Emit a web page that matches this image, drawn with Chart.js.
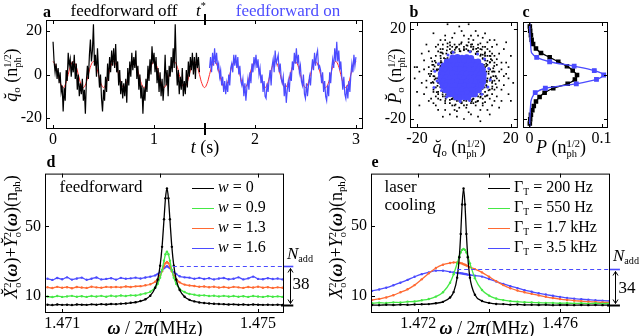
<!DOCTYPE html>
<html>
<head>
<meta charset="utf-8">
<script src="https://cdn.jsdelivr.net/npm/chart.js@4.4.0/dist/chart.umd.min.js"></script>
<style>
body { margin: 0; background: #fff; }
#wrap { position: relative; width: 641px; height: 336px; overflow: hidden; font-family: 'Liberation Serif', 'Times New Roman', serif; }
canvas { position: absolute; }
.t { position: absolute; transform: translate(-50%, -50%); white-space: nowrap; line-height: 1; font-size: 17px; color: #000; }
.r { transform: translate(-50%, -50%) rotate(-90deg); }
.ax { font-size: 18px; }
.b { font-weight: bold; font-size: 16px; }
.st { display: inline-flex; flex-direction: column; vertical-align: middle; font-size: 0.58em; line-height: 0.95; text-align: left; }
.sb { font-size: 0.6em; vertical-align: -0.3em; }
.bw { font-weight: bold; font-style: italic; }
.lg { position: absolute; font-size: 16px; line-height: 16px; white-space: nowrap; }
.ln { display: inline-block; width: 22px; height: 1.5px; vertical-align: middle; margin-right: 4px; }
</style>
</head>
<body>
<div id="wrap">
  <canvas id="ca" width="370" height="160" style="left:0;top:0"></canvas>
  <canvas id="cb" width="140" height="160" style="left:380px;top:0"></canvas>
  <canvas id="cc" width="121" height="160" style="left:520px;top:0"></canvas>
  <canvas id="cd" width="320" height="176" style="left:0;top:160px"></canvas>
  <canvas id="ce" width="321" height="176" style="left:320px;top:160px"></canvas>

  <div class="t b" style="left:47px;top:12px">a</div>
  <div class="t" style="left:124px;top:10px">feedforward off</div>
  <div class="t" style="left:201px;top:10px"><i>t</i><sup style="font-size:0.6em">*</sup></div>
  <div class="t" style="left:288px;top:10px;color:#4d4dff">feedforward on</div>
  <div class="t ax" style="left:205px;top:147px"><i>t</i> (s)</div>
  <div class="t r ax" style="left:12px;top:75px"><i>q&#774;</i><span class="sb">o</span> (n<span class="st"><span>1/2</span><span>ph</span></span>)</div>

  <div class="t b" style="left:414px;top:12px">b</div>
  <div class="t b" style="left:526px;top:12px">c</div>
  <div class="t ax" style="left:459px;top:148px"><i>q&#774;</i><span class="sb">o</span> (n<span class="st"><span>1/2</span><span>ph</span></span>)</div>
  <div class="t ax" style="left:561px;top:148px"><i>P</i> (n<span class="st"><span>1/2</span><span>ph</span></span>)</div>
  <div class="t r ax" style="left:396px;top:76px"><i>P&#774;</i><span class="sb">o</span> (n<span class="st"><span>1/2</span><span>ph</span></span>)</div>

  <div class="t b" style="left:51px;top:162px">d</div>
  <div class="t b" style="left:375px;top:162px">e</div>
  <div class="t" style="left:101px;top:186px">feedforward</div>
  <div class="t" style="left:410px;top:196px;line-height:18px;text-align:left">laser<br>cooling</div>
  <div class="t r ax" style="left:12px;top:237px"><i>X&#774;</i><span class="st"><span>2</span><span>o</span></span>(<span class="bw">ω</span>)+<i>Y&#774;</i><span class="st"><span>2</span><span>o</span></span>(<span class="bw">ω</span>)(n<span class="sb">ph</span>)</div>
  <div class="t r ax" style="left:337px;top:237px"><i>X</i><span class="st"><span>2</span><span>o</span></span>(<span class="bw">ω</span>)+<i>Y</i><span class="st"><span>2</span><span>o</span></span>(<span class="bw">ω</span>)(n<span class="sb">ph</span>)</div>
  <div class="t ax" style="left:155px;top:328px"><span class="bw">ω</span> / 2<span class="bw">π</span>(MHz)</div>
  <div class="t ax" style="left:487px;top:328px"><span class="bw">ω</span> / 2<span class="bw">π</span>(MHz)</div>
  <div class="t" style="left:300px;top:255px"><i>N</i><span class="sb">add</span></div>
  <div class="t" style="left:301px;top:283px">38</div>
  <div class="t" style="left:626px;top:257px"><i>N</i><span class="sb">add</span></div>
  <div class="t" style="left:627px;top:287px">34</div>

  <div class="lg" style="left:192px;top:179px"><span class="ln" style="background:#000"></span><i>w</i> = 0</div>
  <div class="lg" style="left:192px;top:199px"><span class="ln" style="background:#45e845"></span><i>w</i> = 0.9</div>
  <div class="lg" style="left:192px;top:219px"><span class="ln" style="background:#ff6a33"></span><i>w</i> = 1.3</div>
  <div class="lg" style="left:192px;top:239px"><span class="ln" style="background:#4b4bff"></span><i>w</i> = 1.6</div>

  <div class="lg" style="left:488px;top:179px"><span class="ln" style="background:#000"></span>Γ<span class="sb">T</span> = 200 Hz</div>
  <div class="lg" style="left:488px;top:199px"><span class="ln" style="background:#45e845"></span>Γ<span class="sb">T</span> = 550 Hz</div>
  <div class="lg" style="left:488px;top:219px"><span class="ln" style="background:#ff6a33"></span>Γ<span class="sb">T</span> = 1.7 kHz</div>
  <div class="lg" style="left:488px;top:239px"><span class="ln" style="background:#4b4bff"></span>Γ<span class="sb">T</span> = 3.5 kHz</div>
</div>

<script>
// ---------- panel a: time traces (sampled every 10 ms) ----------
var offStart = 0, onStart = 1.55, sampleStep = 0.01;
var qOff = [15,6,1,5,-2,3,-4,1,-8,-5,
  -17,-6,-12,2,-3,10,4,7,-1,6,
  1,9,-2,5,-7,0,-10,-4,-9,-2,
  -12,-7,-18,-3,4,-2,9,16,6,11,
  23,4,9,-1,12,2,-6,0,-11,-17,
  -7,-12,-1,-8,5,-3,8,1,11,4,
  12,3,14,1,6,-5,2,-9,-3,-11,
  -4,-10,-2,-13,3,-5,6,-1,10,2,
  8,3,11,-2,4,-7,0,-11,-5,-18,
  -6,-12,-2,-8,4,-3,7,0,13,5,
  10,1,8,-4,3,-8,1,-10,-2,-12,
  -4,9,-5,2,-10,4,-1,8,1,12,
  3,23,5,-5,2,-9,-1,-7,3,-10,
  -3,-9,2,-6,6,-1,8,2,10,0,
  8,-2,10,3,8,1];
var qOn = [3,8,1,10,4,12,5,10,3,5,
  -1,2,-5,-1,-8,-3,-9,-4,-8,0,
  -5,3,5,1,9,4,9,3,8,0,
  4,-3,-5,-2,-10,-4,-12,-6,-2,-7,
  1,-4,5,1,8,4,9,3,7,0,
  3,-4,0,-8,-3,-10,-11,-4,-8,-2,
  2,-5,4,7,1,11,5,7,9,1,
  5,-2,-4,-1,-10,-4,-13,-7,-3,-8,
  1,-3,6,2,10,5,12,5,9,1,
  4,-3,-5,0,-9,-11,-4,-10,-5,-1,
  -5,2,7,2,10,4,9,11,3,4,
  2,-4,1,-8,-3,-10,-12,-5,-10,1,
  -4,3,7,3,12,6,15,6,11,2,
  6,-1,-7,-1,-9,-11,-5,-11,-3,-8,
  0,5,1,9,4,8];
// reference oscillation, every 25 ms
var refStep = 0.025;
var qRef = [6,4.2,0,-4.2,-6,-4.2,0,4.2, 6,4.2,0,-4.2,-6,-4.2,0,4.2, 6,4.2,0,-4.2,-6,-4.2,0,4.2,
  6,4.2,0,-4.2,-6,-4.2,0,4.2, 6,4.2,0,-4.2,-6,-4.2,0,4.2, 6,4.2,0,-4.2,-6,-4.2,0,4.2,
  6,4.2,0,-4.2,-6,-4.2,0,4.2, 6,4.2,0,-4.2,-6,-4.2,0,4.2, 6,4.2,0,-4.2,-6,-4.2,0,4.2,
  6,4.2,0,-4.2,-6,-4.2,0,4.2, 6,4.2,0,-4.2,-6,-4.2,0,4.2, 6,4.2,0,-4.2,-6,-4.2,0,4.2,
  6,4.2,0,-4.2,-6,-4.2,0,4.2, 6,4.2,0,-4.2,-6,-4.2,0,4.2, 6,4.2,0,-4.2,-6,-4.2,0,4.2, 6];
var tStar = 1.5;
var ticksTA = [0, 1, 2, 3], labelsTA = ['0', '1', '2', '3'];
var ticksQA = [-20, 0, 20], labelsQA = ['-20', '0', '20'];

// ---------- panel b: phase-space scatter [q, p] ----------
var offPoints = [[9,3],[10,-2],[8,7],[11,5],[12,-4],[7,-9],[-9,2],[-10,-3],[-8,6],[-11,4],
  [-12,-6],[-7,-10],[3,10],[-2,11],[5,9],[-5,10],[0,12],[2,-11],[-3,-12],[6,-10],
  [-6,-9],[1,-10],[10,8],[-10,8],[9,-8],[-9,-8],[13,1],[-13,-1],[12,6],[-12,5],
  [4,12],[-4,13],[7,11],[-7,12],[11,-7],[-11,-9],[3,-13],[-1,-13],[8,-11],[-8,-12],
  [13,-3],[-13,2],[14,4],[-14,-4],[10,11],[-10,11],[11,10],[-11,-11],[6,13],[-6,14],
  [2,14],[-2,-15],[5,-14],[-5,-14],[14,-6],[-14,7],[9,12],[-9,13],[12,-9],[-12,-10],
  [8.5,4],[9.5,-5],[-8.5,-4],[-9.5,5],[4,-9.5],[-4,9.5],[10.5,1],[-10.5,0],[0,10.5],[0.5,-11],
  [7,8],[-7,-8],[7,-7],[-7,7],[11.5,-1.5],[-11.5,1.5],[1.5,12.5],[-1.5,-11.5],[12.5,2.5],[-12.5,-2.5],
  [9,9.5],[-9,-10],[10,-9.5],[-10,9.5],[6,11.5],[-6,-11.5],[13.5,-1],[-13.5,4],[3.5,-11.5],[-3.5,11.5],
  [16,2],[-16,-3],[15,9],[-15,10],[3,17],[-4,18],[8,16],[-10,15],[17,-5],[-17,6],
  [12,-14],[-13,-13],[2,-17],[-6,-18],[18,0],[-19,1],[6,-19],[-2,21],[10,-16],[-11,-16],
  [14,13],[-15,-12],[19,-9],[-20,-8],[0,-20],[16,-12],[-16,13],[5,19],[-8,17],[20,8],
  [-21,3],[-21,-2],[19,-2],[-7,22],[2,22],[15,-15],[-3,-19],[11,15],[-17,-9],[17,11],
  [13,8],[-13,-7],[8,-14],[-8,15],[15,-3],[-15,0],[4,15],[-4,-16],[12,12],[-12,12],
  [10,4],[11,2],[9,6],[12,1],[11,-3],[10,-6],[8,-9],[9,-10],[6,-12],[4,-11],
  [1,-12],[-2,-12],[-5,-11],[-8,-10],[-10,-6],[-11,-4],[-12,-2],[-11,2],[-10,5],[-9,9],
  [-6,11],[-3,12],[1,11],[4,11],[6,10],[9,8],[12.5,-1],[13,5],[11,8],[8,12],
  [3,13],[-1,14],[-5,12],[-9,11],[-12,8],[-13,4],[-14,0],[-13,-4],[-11,-8],[-8,-13],
  [-4,-14],[0,-14],[4,-13],[8,-13],[11,-11],[13,-7],[14,-2],[9.5,1],[9.8,-3],[8.8,-6],
  [7,-10.5],[2.5,-10.2],[-1,-10.8],[-4.5,-10.5],[-8,-8],[-9.8,-5],[-10.2,-1],[-10,3],[-8.5,7],[-5.5,9.5],
  [-1.5,10],[2,10.2],[5.5,9.8],[8,8.5],[9.5,4.5],[11.5,6.5],[13.5,-4.5],[12,-6.5],[9,-12.5],[5,-12.5],
  [-1,-12.5],[-6,-13],[-10,-11.5],[-13,-8],[-14.5,-1],[-13.5,5.5],[-11,10],[-7,13.5],[-2,13],[3,12],
  [7,13.5],[12,9],[14,6.5],[15,1],[-15,3],[2,15.5],[-3,-16.5],[16,-7],[-16,-6],[10,14],
  [-11,13],[13,-12],[-12,-14],[7,-16],[-8,-16],[16,5],[-17,2],[0,17],[1,-15],[17,-1],
  [-18,-4],[-5,16],[6,17],[18,5],[-18,9],[14,-10],[-14,-11],[9,18],[-9,-19],[19,3],
  [-20,3],[11,-18],[3,-18],[-1,19],[13,15],[20,-12],[-19,-14],[18,14],[-13,18],[7,-21],[21,-4],
  [10.5,0],[11.1,2.0],[9.6,3.5],[10.0,5.8],[8.0,6.7],[7.2,8.6],[5.1,8.7],[3.9,10.8],[1.8,10.4],[0,11],
  [-1.8,10.1],[-3.9,10.7],[-5.3,9.1],[-7.5,9.0],[-7.8,6.6],[-9.8,5.7],[-10.0,3.6],[-11.6,2.0],[-10.4,0],[-11.3,-2.0],
  [-9.7,-3.5],[-10.0,-5.8],[-8.3,-6.9],[-7.6,-9.1],[-5.4,-9.3],[-4.1,-11.3],[-1.9,-10.7],[0,-11.8],[1.8,-10.4],[4.0,-11.0],
  [5.3,-9.1],[7.3,-8.7],[7.9,-6.6],[9.7,-5.6],[9.8,-3.6],[11.3,-2.0],
  [12.5,1.1],[12.9,3.5],[11.1,5.2],[11.3,7.9],[8.9,8.9],[7.6,10.8],[5.2,11.1],[3.5,13.1],[1.1,12.7],[-1.2,13.4],
  [-3.2,12.0],[-5.9,12.6],[-7.3,10.4],[-9.4,9.4],[-9.9,6.9],[-12.4,5.8],[-12.5,3.3],[-13.9,1.2],[-12.6,-1.1],[-13.3,-3.6],
  [-11.3,-5.3],[-11.6,-8.1],[-9.1,-9.1],[-7.8,-11.1],[-5.2,-11.2],[-3.6,-13.6],[-1.1,-13.0],[1.2,-13.8],[3.3,-12.2],[5.7,-12.2],
  [7.1,-10.1],[9.7,-9.7],[10.5,-7.3],[12.1,-5.6],[12.1,-3.2],[13.5,-1.2]];
var onPoints = [[-4.8,7.2],[-2.8,7.4],[-0.8,7.1],[1.2,7.3],[3.0,7.0],
  [-7.2,5.4],[-5.6,5.6],[-3.6,5.3],[-1.6,5.5],[0.4,5.4],[2.4,5.6],[4.4,5.3],[6.0,5.4],
  [-8.6,3.6],[-6.8,3.7],[-4.8,3.5],[-2.8,3.6],[-0.8,3.8],[1.2,3.5],[3.2,3.7],[5.2,3.6],[7.2,3.5],
  [-9.4,1.8],[-7.6,1.9],[-5.6,1.7],[-3.6,1.8],[-1.6,2.0],[0.4,1.7],[2.4,1.9],[4.4,1.8],[6.4,1.7],[8.0,1.9],
  [-9.8,0.1],[-8.6,-0.1],[-6.8,0.0],[-4.8,0.2],[-2.8,-0.1],[-0.8,0.1],[1.2,0.0],[3.2,-0.2],[5.2,0.1],[7.2,0.0],[8.4,-0.1],
  [-9.9,-1.8],[-7.6,-1.7],[-5.6,-1.9],[-3.6,-1.8],[-1.6,-1.6],[0.4,-1.9],[2.4,-1.8],[4.4,-1.7],[6.4,-1.9],[8.3,-1.8],
  [-9.6,-3.6],[-8.6,-3.5],[-6.8,-3.7],[-4.8,-3.6],[-2.8,-3.4],[-0.8,-3.7],[1.2,-3.6],[3.2,-3.5],[5.2,-3.7],[7.2,-3.6],[8.1,-3.5],
  [-8.9,-5.4],[-7.6,-5.3],[-5.6,-5.5],[-3.6,-5.4],[-1.6,-5.6],[0.4,-5.3],[2.4,-5.4],[4.4,-5.5],[6.4,-5.3],[7.5,-5.4],
  [-7.9,-7.2],[-6.8,-7.1],[-4.8,-7.3],[-2.8,-7.2],[-0.8,-7.0],[1.2,-7.2],[3.2,-7.3],[5.2,-7.1],[6.3,-7.2],
  [-6.2,-9.0],[-4.6,-8.9],[-2.6,-9.1],[-0.6,-9.0],[1.4,-8.8],[3.4,-9.0],[4.6,-9.0],
  [-3.2,-10.4],[-1.6,-10.5],[0.4,-10.3],[1.8,-10.4]];
var onStray = [[-10.8,4.5],[10.2,-5.8],[-7.4,-10.2],[5.8,8.8],[10.6,2.4],[-11.4,-3.2],[2.4,-11.8],[-4.6,9.6],
  [8.8,6.6],[-12.4,1.2],[-9.6,-7.4],[7.6,-9.0],[2.6,9.8],[-6.8,8.4],[11.2,-2.6],[-1.6,-12.2],[-12.8,-6]];
var ticksB = [-20, 20], labelsB = ['-20', '20'];

// ---------- panel c: distributions P(q) ----------
var qHist = [26,22,20,18,16,14,12,10,8,6,4,2,0,-2,-4,-6,-8,-10,-12,-14,-16,-18,-20,-22,-26];
var pOff = [0.0003,0.0005,0.001,0.002,0.003,0.005,0.009,0.016,0.028,0.040,0.052,0.060,0.066,0.063,0.053,0.033,0.021,0.014,0.009,0.006,0.004,0.002,0.001,0.0005,0.0003];
var pOn = [0.0002,0.0003,0.0005,0.0008,0.001,0.0015,0.002,0.003,0.010,0.028,0.062,0.090,0.103,0.093,0.065,0.022,0.008,0.004,0.002,0.0015,0.001,0.0008,0.0005,0.0003,0.0002];
var ticksPC = [0, 0.1], labelsPC = ['0', '0.1'];

// ---------- panel d: feedforward spectra ----------
var freqD = [1.4707,1.4708,1.4709,1.471,1.4711,1.4712,1.4713,1.4714,1.4715,1.4716,1.4717,1.4718,1.4719,1.472,1.4721,1.4722,1.4723,1.4724,1.4725,1.4726,1.4727,1.4728,1.4729,
  1.47295,1.473,1.47304,1.47308,1.47311,1.47314,1.47317,1.4732,1.47324,1.47328,1.47333,
  1.4734,1.4735,1.4736,1.4737,1.4738,1.4739,1.474,1.4741,1.4742,1.4743,1.4744,1.4745,1.4746,1.4747,1.4748,1.4749,1.475,1.4751,1.4752,1.4753,1.4754,1.4755];
var w0 = [4.8,4.6,4.9,4.7,4.8,4.6,4.9,4.8,4.7,5.0,4.8,5.1,4.9,5.2,5.1,5.4,5.5,5.9,6.2,6.9,7.9,10.0,14.6,
  19.2,27.3,38.2,54.1,66.3,71.9,66.3,54.1,38.2,27.3,19.2,
  13.3,9.4,7.6,6.7,6.1,5.8,5.5,5.3,5.2,5.1,4.9,5.0,4.8,4.9,4.7,4.9,4.8,4.7,4.8,4.7,4.8,4.7];
var w09 = [9.5,9.2,9.8,9.3,9.6,9.9,9.4,9.7,9.3,9.8,9.5,9.9,9.4,10.0,9.6,10.1,9.8,10.2,10.1,10.7,11.3,12.3,14.7,
  16.8,20.4,24.8,30.2,33.9,35.4,33.9,30.2,24.8,20.4,16.8,
  13.9,12.1,11.0,10.6,10.1,10.2,9.8,10.0,9.6,9.9,9.5,9.8,9.4,9.7,9.3,9.8,9.5,9.3,9.7,9.4,9.6,9.3];
var w13 = [14.9,14.4,15.1,14.6,14.9,14.3,15.0,14.7,14.5,15.2,14.8,14.6,15.1,14.9,15.0,14.8,15.3,15.0,15.4,15.5,16.0,16.6,18.1,
  19.5,21.6,24.1,27.0,28.8,29.5,28.8,27.0,24.1,21.6,19.5,
  17.7,16.4,15.9,15.6,15.2,15.3,14.9,15.2,14.7,15.0,14.6,15.1,14.8,14.5,15.0,14.7,15.2,14.6,14.9,14.5,14.8,14.6];
var w16 = [19.8,19.1,20.2,19.5,20.6,19.3,19.9,20.4,19.2,19.8,20.5,19.4,19.7,20.1,19.3,20.3,19.8,20.0,20.4,19.9,20.5,21.0,21.7,
  22.5,23.5,24.6,25.9,26.6,27.0,26.6,25.9,24.6,23.5,22.5,
  21.2,20.6,20.4,19.8,20.3,19.6,20.1,19.4,19.9,20.2,19.5,19.8,20.6,19.4,20.0,21.0,19.7,19.5,20.1,19.6,19.9,19.4];
var nAddD = 27, floorD = 4.7;
var ticksFD = [1.471, 1.473, 1.475], labelsFD = ['1.471', '', '1.475'];

// ---------- panel e: laser cooling spectra ----------
var freqE = [1.4707,1.4709,1.4711,1.4713,1.4715,1.4717,1.4719,1.4721,1.4723,1.4725,1.4727,1.4729,
  1.473,1.4731,1.47316,1.4732,1.47324,1.47328,1.47332,1.47336,1.4734,1.47346,
  1.4736,1.4738,1.474,1.4742,1.4744,1.4746,1.4748,1.475,1.4752,1.4754,1.4756,1.4758,1.476,1.4762,1.4764,1.4766,1.4768,1.477,1.4772,1.4774];
var g200 = [4.6,4.5,4.7,4.6,4.8,4.7,4.9,5.0,5.1,5.6,6.4,8.9,
  12.0,20.3,32.0,45.4,62.3,71.5,62.3,45.4,32.0,20.3,
  10.5,6.9,5.8,5.2,5.1,4.8,4.9,4.7,4.7,4.6,4.7,4.5,4.6,4.6,4.5,4.6,4.5,4.6,4.5,4.5];
var g550 = [5.6,5.9,5.7,6.1,6.0,6.5,6.6,7.3,8.0,9.4,11.9,17.4,
  22.2,28.5,32.4,34.7,36.2,36.8,36.2,34.7,32.4,28.5,
  20.0,13.2,10.0,8.3,7.4,6.8,6.5,6.2,6.1,5.9,5.8,5.8,5.6,5.7,5.5,5.6,5.4,5.6,5.4,5.5];
var g1700 = [7.4,8.1,8.9,10.2,11.9,13.6,16.0,19.3,22.8,25.8,27.7,28.7,
  29.0,29.0,28.8,28.6,28.4,28.0,27.7,27.3,26.9,26.3,
  25.2,23.3,20.8,18.3,16.0,14.2,12.9,11.9,11.0,10.1,9.3,8.6,8.0,7.5,7.1,6.8,6.5,6.3,6.1,6.0];
var g3500 = [12.7,13.5,14.5,15.9,17.4,19.0,20.8,22.3,23.3,24.3,24.3,23.6,
  23.3,23.0,22.9,22.8,22.7,22.5,22.4,22.2,22.0,21.8,
  21.4,20.9,19.5,18.1,16.7,15.4,14.3,13.1,12.2,11.3,10.6,9.9,9.2,8.7,8.2,7.9,7.6,7.3,7.1,6.9];
var nAddE = 25, floorE = 4.5;
var ticksFE = [1.472, 1.474, 1.476], labelsFE = ['1.472', '', '1.476'];

var ticksS = [10, 50], labelsS = ['10', '50'];
var qTicksC = [-20, 0, 20];

var RED = '#ff2a2a', BLUE = '#4b4bff', GREEN = '#45e845', ORANGE = '#ff6a33';

Chart.defaults.font.family = "'Liberation Serif', 'Times New Roman', serif";
Chart.defaults.color = '#000';

function xy(xs, ys) {
  return ys.map(function (v, i) { return { x: xs[i], y: v }; });
}
function fromStart(t0, dt, ys) {
  return ys.map(function (v, i) { return { x: t0 + i * dt, y: v }; });
}
function pairs(list) {
  return list.map(function (p) { return { x: p[0], y: p[1] }; });
}

function scale(min, max, vals, labs, fit, isX) {
  return {
    type: 'linear', min: min, max: max,
    afterBuildTicks: function (s) { s.ticks = vals.map(function (v) { return { value: v }; }); },
    afterFit: function (s) { if (isX) { s.height = fit; } else { s.width = fit; } },
    grid: { display: false, drawTicks: false },
    border: { display: false },
    ticks: {
      display: labs !== null,
      padding: isX ? 1 : 4,
      maxRotation: 0,
      autoSkip: false,
      font: { size: 16 },
      color: '#000',
      callback: function (v, i) { return labs ? labs[i] : ''; }
    }
  };
}

// box around the plot with inward ticks
var frame = {
  id: 'frame',
  afterDatasetsDraw: function (chart, args, o) {
    var ctx = chart.ctx, a = chart.chartArea, sx = chart.scales.x, sy = chart.scales.y;
    var L = 4;
    ctx.save();
    ctx.strokeStyle = '#000';
    ctx.lineWidth = 1;
    ctx.strokeRect(a.left + 0.5, a.top + 0.5, a.right - a.left - 1, a.bottom - a.top - 1);
    ctx.beginPath();
    sx.ticks.forEach(function (t) {
      var x = Math.round(sx.getPixelForValue(t.value)) + 0.5;
      ctx.moveTo(x, a.bottom); ctx.lineTo(x, a.bottom - L);
      if (o.top) { ctx.moveTo(x, a.top); ctx.lineTo(x, a.top + L); }
    });
    sy.ticks.forEach(function (t) {
      var y = Math.round(sy.getPixelForValue(t.value)) + 0.5;
      ctx.moveTo(a.left, y); ctx.lineTo(a.left + L, y);
      if (o.right) { ctx.moveTo(a.right, y); ctx.lineTo(a.right - L, y); }
    });
    ctx.stroke();
    ctx.restore();
  }
};

var tMark = {
  id: 'tmark',
  afterDatasetsDraw: function (chart) {
    var ctx = chart.ctx, a = chart.chartArea;
    var x = Math.round(chart.scales.x.getPixelForValue(tStar));
    ctx.save();
    ctx.strokeStyle = '#000';
    ctx.lineWidth = 2;
    ctx.beginPath();
    ctx.moveTo(x, a.top - 6); ctx.lineTo(x, a.top + 5);
    ctx.moveTo(x, a.bottom - 6); ctx.lineTo(x, a.bottom + 6);
    ctx.stroke();
    ctx.restore();
  }
};

function nAdd(level, floor, from, to, at) {
  return {
    id: 'nadd',
    afterDatasetsDraw: function (chart) {
      var ctx = chart.ctx, a = chart.chartArea, sx = chart.scales.x, sy = chart.scales.y;
      var yl = Math.round(sy.getPixelForValue(level)) + 0.5;
      var yb = Math.round(sy.getPixelForValue(floor)) + 0.5;
      var x0 = sx.getPixelForValue(from), x1 = sx.getPixelForValue(to);
      var xa = Math.round(sx.getPixelForValue(at)) + 0.5;
      ctx.save();
      ctx.strokeStyle = BLUE;
      ctx.lineWidth = 1.2;
      ctx.setLineDash([4, 3]);
      ctx.beginPath(); ctx.moveTo(x0, yl); ctx.lineTo(a.right, yl); ctx.stroke();
      ctx.setLineDash([]);
      ctx.lineWidth = 1.6;
      ctx.beginPath(); ctx.moveTo(a.right, yl); ctx.lineTo(x1, yl); ctx.stroke();
      ctx.strokeStyle = '#000';
      ctx.lineWidth = 2;
      ctx.beginPath(); ctx.moveTo(a.right - 3, yb); ctx.lineTo(x1, yb); ctx.stroke();
      ctx.lineWidth = 1;
      ctx.beginPath();
      ctx.moveTo(xa, yl + 2); ctx.lineTo(xa, yb - 2);
      ctx.moveTo(xa - 2.5, yl + 6); ctx.lineTo(xa, yl + 2); ctx.lineTo(xa + 2.5, yl + 6);
      ctx.moveTo(xa - 2.5, yb - 6); ctx.lineTo(xa, yb - 2); ctx.lineTo(xa + 2.5, yb - 6);
      ctx.stroke();
      ctx.restore();
    }
  };
}

function baseOptions(pad, xs, ys, frameOpts) {
  return {
    responsive: false,
    devicePixelRatio: 1,
    animation: false,
    events: [],
    layout: { padding: pad, autoPadding: false },
    scales: { x: xs, y: ys },
    plugins: { legend: { display: false }, tooltip: { enabled: false }, frame: frameOpts }
  };
}

// a
new Chart(document.getElementById('ca'), {
  type: 'line',
  data: {
    datasets: [
      { data: fromStart(offStart, sampleStep, qOff), borderColor: '#000', borderWidth: 1.2, pointRadius: 0, tension: 0 },
      { data: fromStart(onStart, sampleStep, qOn), borderColor: BLUE, borderWidth: 1.2, pointRadius: 0, tension: 0 },
      { data: fromStart(0, refStep, qRef), borderColor: RED, borderWidth: 1, pointRadius: 0, tension: 0.4 }
    ]
  },
  options: baseOptions({ left: 0, top: 20, right: 7, bottom: 0 },
    scale(-0.07, 3.07, ticksTA, labelsTA, 31, true),
    scale(-25, 25, ticksQA, labelsQA, 46, false),
    { top: true, right: true }),
  plugins: [frame, tMark]
});

// b
new Chart(document.getElementById('cb'), {
  type: 'scatter',
  data: {
    datasets: [
      { data: pairs(onPoints), backgroundColor: BLUE, pointRadius: 3.2, pointBorderWidth: 0 },
      { data: pairs(onStray), backgroundColor: BLUE, pointRadius: 1.5, pointBorderWidth: 0 },
      { data: pairs(offPoints), backgroundColor: '#000', pointStyle: 'rect', pointRadius: 1.2, pointBorderWidth: 0 }
    ]
  },
  options: baseOptions({ left: 0, top: 22, right: 2, bottom: 0 },
    scale(-23, 23, ticksB, labelsB, 32, true),
    scale(-24, 23, ticksB, labelsB, 30, false),
    { top: true, right: true }),
  plugins: [frame]
});

// c
var onMarks = pOn.map(function (v) { return v > 0.006 ? 2.5 : 0; });
new Chart(document.getElementById('cc'), {
  type: 'scatter',
  data: {
    datasets: [
      { data: xy(pOn, qHist), showLine: true, borderColor: BLUE, borderWidth: 1.3, tension: 0.3,
        pointStyle: 'rect', pointRadius: onMarks, backgroundColor: BLUE, pointBorderColor: BLUE },
      { data: xy(pOff, qHist), showLine: true, borderColor: '#000', borderWidth: 1.3, tension: 0.3,
        pointStyle: 'rect', pointRadius: 2.3, backgroundColor: '#000', pointBorderColor: '#000' }
    ]
  },
  options: baseOptions({ left: 0, top: 22, right: 33, bottom: 0 },
    scale(-0.009, 0.109, ticksPC, labelsPC, 32, true),
    scale(-24, 24, qTicksC, null, 3, false),
    { top: true, right: true }),
  plugins: [frame]
});

function spectrum(data, color) {
  return { data: data, borderColor: color, backgroundColor: color, borderWidth: 1.3,
    pointRadius: 1.2, pointBorderWidth: 0, cubicInterpolationMode: 'monotone' };
}

// d
new Chart(document.getElementById('cd'), {
  type: 'line',
  data: {
    datasets: [
      spectrum(xy(freqD, w0), '#000'),
      spectrum(xy(freqD, w09), GREEN),
      spectrum(xy(freqD, w13), ORANGE),
      spectrum(xy(freqD, w16), BLUE)
    ]
  },
  options: baseOptions({ left: 0, top: 12, right: 36, bottom: 0 },
    scale(1.47065, 1.47553, ticksFD, labelsFD, 23, true),
    scale(0, 80.5, ticksS, labelsS, 45, false),
    { top: true, right: false }),
  plugins: [frame, nAdd(nAddD, floorD, 1.47326, 1.47572, 1.47565)]
});

// e
new Chart(document.getElementById('ce'), {
  type: 'line',
  data: {
    datasets: [
      spectrum(xy(freqE, g200), '#000'),
      spectrum(xy(freqE, g550), GREEN),
      spectrum(xy(freqE, g1700), ORANGE),
      spectrum(xy(freqE, g3500), BLUE)
    ]
  },
  options: baseOptions({ left: 0, top: 12, right: 31, bottom: 0 },
    scale(1.47067, 1.47741, ticksFE, labelsFE, 23, true),
    scale(0, 80, ticksS, labelsS, 51, false),
    { top: true, right: false }),
  plugins: [frame, nAdd(nAddE, floorE, 1.4731, 1.47769, 1.47755)]
});
</script>
</body>
</html>
